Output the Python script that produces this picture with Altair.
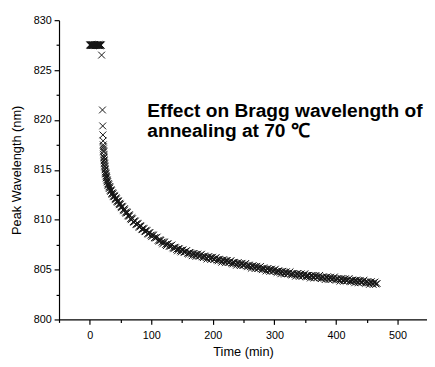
import altair as alt
import pandas as pd

# plateau before annealing effect (time in min, wavelength in nm)
time_plateau = [0, 0.5, 1, 1.5, 2, 2.5, 3, 3.5, 4, 4.5, 5, 5.5, 6, 6.5, 7, 7.5, 8, 8.5, 9, 9.5,
                10, 10.5, 11, 11.5, 12, 12.5, 13, 13.5, 14, 14.5, 15, 15.5, 16, 16.5, 17, 17.5, 18, 18.5]
wl_plateau = [827.5, 827.55, 827.5, 827.45, 827.5, 827.55, 827.5, 827.5, 827.45, 827.5,
              827.55, 827.5, 827.5, 827.45, 827.5, 827.55, 827.5, 827.5, 827.45, 827.5,
              827.55, 827.5, 827.5, 827.45, 827.5, 827.55, 827.5, 827.5, 827.45, 827.5,
              827.55, 827.5, 827.5, 827.45, 827.5, 827.55, 827.5, 827.5]

# decay, first set of readings
time_decay = [19.2, 20.6, 21.0, 21.3, 21.6, 21.9, 22.2, 22.5, 22.8, 23.1, 23.4, 23.7, 24.0, 24.4, 24.8,
              25.3, 25.8, 26.4, 27.0, 27.7, 28.5, 29.3, 30.2, 31.2, 32.2, 33.3, 34.5, 35.7, 37.0, 38.4,
              39.8, 41.2, 42.7, 44.2, 45.8, 47.4, 49.0, 50.7, 52.4, 54.2, 56.0, 58.0, 60.0, 62.0, 64.0,
              66.2, 68.4, 70.6, 72.8, 75.0, 77.3, 79.6, 82.0, 84.4, 86.8, 89.2, 91.6, 94.0, 96.5, 99.0,
              102, 105, 108, 111, 114, 117, 120, 123, 126, 129, 132, 135, 138, 141, 144, 147, 150,
              153, 156, 159, 162, 165, 168, 171, 174, 177, 180, 183, 186, 189, 192, 195, 198, 201,
              204, 207, 210, 213, 216, 219, 222, 225, 228, 231, 234, 237, 240, 243, 246, 249, 252,
              255, 258, 261, 264, 267, 270, 273, 276, 279, 282, 285, 288, 291, 294, 297, 300, 303,
              306, 309, 312, 315, 318, 321, 324, 327, 330, 333, 336, 339, 342, 345, 348, 351, 354,
              357, 360, 363, 366, 369, 372, 375, 378, 381, 384, 387, 390, 393, 396, 399, 402, 405,
              408, 411, 414, 417, 420, 423, 426, 429, 432, 435, 438, 441, 444, 447, 450, 453, 456,
              459, 462, 465]
wl_decay = [826.5, 821.0, 819.4, 818.5, 817.9, 817.5, 817.1, 816.8, 816.5, 816.2, 816.0, 815.7, 815.6, 815.3, 815.1,
            814.8, 814.7, 814.4, 814.35, 814.0, 813.95, 813.6, 813.6, 813.3, 813.3, 812.95, 813.0, 812.65, 812.7, 812.35,
            812.45, 812.1, 812.2, 811.85, 811.9, 811.6, 811.65, 811.3, 811.35, 811.0, 811.1, 810.75, 810.8, 810.4, 810.5,
            810.1, 810.2, 809.8, 809.9, 809.55, 809.65, 809.3, 809.4, 809.05, 809.15, 808.85, 808.95, 808.6, 808.72, 808.45,
            808.48, 808.20, 808.22, 807.93, 808.00, 807.75, 807.78, 807.52, 807.58, 807.35, 807.40, 807.18, 807.24, 807.02, 807.10, 806.88, 806.95,
            806.76, 806.83, 806.63, 806.72, 806.55, 806.62, 806.44, 806.52, 806.36, 806.44, 806.28, 806.36, 806.20, 806.28, 806.12, 806.20, 806.04,
            806.12, 805.97, 806.04, 805.88, 805.96, 805.80, 805.88, 805.72, 805.80, 805.65, 805.73, 805.58, 805.66, 805.52, 805.59, 805.45, 805.52,
            805.38, 805.45, 805.29, 805.36, 805.22, 805.29, 805.15, 805.22, 805.08, 805.15, 805.01, 805.08, 804.94, 805.01, 804.87, 804.94, 804.80,
            804.87, 804.73, 804.80, 804.66, 804.73, 804.60, 804.67, 804.54, 804.62, 804.49, 804.56, 804.44, 804.51, 804.39, 804.46, 804.34, 804.42,
            804.30, 804.38, 804.26, 804.34, 804.22, 804.30, 804.18, 804.26, 804.14, 804.22, 804.10, 804.18, 804.06, 804.14, 804.02, 804.10, 803.98,
            804.06, 803.94, 804.02, 803.90, 803.98, 803.86, 803.94, 803.82, 803.90, 803.78, 803.86, 803.74, 803.82, 803.70, 803.78, 803.66, 803.74,
            803.62, 803.70, 803.56]

# decay, second set of readings (in between the first)
time_decay2 = [22.0, 22.4, 23.0, 23.5, 24.2, 25.0, 25.6, 26.1, 26.7, 27.3, 28.1, 28.9, 29.7, 30.7, 31.7,
               32.7, 33.9, 35.1, 36.3, 37.7, 39.1, 40.5, 41.9, 43.4, 45.0, 46.6, 48.2, 49.8, 51.5, 53.3,
               55.1, 57.0, 59.0, 61.0, 63.0, 65.1, 67.3, 69.5, 71.7, 73.9, 76.1, 78.4, 80.8, 83.2, 85.6,
               88.0, 90.4, 92.8, 95.2, 97.7,
               100.5, 103.5, 106.5, 109.5, 112.5, 115.5, 118.5, 121.5, 124.5, 127.5, 130.5, 133.5, 136.5,
               139.5, 142.5, 145.5, 148.5, 151.5, 154.5, 157.5, 160.5, 163.5, 166.5, 169.5, 172.5, 175.5,
               178.5, 181.5, 184.5, 187.5, 190.5, 193.5, 196.5, 199.5, 202.5, 205.5, 208.5, 211.5, 214.5,
               217.5, 220.5, 223.5, 226.5, 229.5, 232.5, 235.5, 238.5, 241.5, 244.5, 247.5, 250.5, 253.5,
               256.5, 259.5, 262.5, 265.5, 268.5, 271.5, 274.5, 277.5, 280.5, 283.5, 286.5, 289.5, 292.5,
               295.5, 298.5, 301.5, 304.5, 307.5, 310.5, 313.5, 316.5, 319.5, 322.5, 325.5, 328.5, 331.5,
               334.5, 337.5, 340.5, 343.5, 346.5, 349.5, 352.5, 355.5, 358.5, 361.5, 364.5, 367.5, 370.5,
               373.5, 376.5, 379.5, 382.5, 385.5, 388.5, 391.5, 394.5, 397.5, 400.5, 403.5, 406.5, 409.5,
               412.5, 415.5, 418.5, 421.5, 424.5, 427.5, 430.5, 433.5, 436.5, 439.5, 442.5, 445.5, 448.5,
               451.5, 454.5, 457.5, 460.5, 463.5, 467.0]
wl_decay2 = [817.3, 816.9, 816.3, 815.9, 815.4, 815.0, 814.6, 814.6, 814.2, 814.2, 813.8, 813.8, 813.45, 813.5, 813.15,
             813.2, 812.85, 812.9, 812.55, 812.6, 812.3, 812.35, 812.0, 812.1, 811.75, 811.85, 811.5, 811.55, 811.2, 811.3,
             810.9, 811.0, 810.65, 810.7, 810.35, 810.4, 810.0, 810.1, 809.75, 809.85, 809.5, 809.6, 809.25, 809.35, 809.0,
             809.1, 808.8, 808.9, 808.55, 808.7,
             808.30, 808.45, 808.15, 808.26, 807.85, 807.93, 807.58, 807.75, 807.40, 807.58, 807.32, 807.47, 807.09,
             807.19, 806.88, 807.08, 806.77, 806.97, 806.74, 806.91, 806.56, 806.68, 806.39, 806.62, 806.33, 806.56,
             806.35, 806.54, 806.20, 806.34, 806.06, 806.30, 806.01, 806.24, 806.03, 806.22, 805.88, 806.02, 805.74,
             805.98, 805.69, 805.92, 805.71, 805.90, 805.56, 805.71, 805.44, 805.68, 805.40, 805.63, 805.43, 805.62,
             805.29, 805.43, 805.14, 805.38, 805.10, 805.33, 805.13, 805.32, 804.99, 805.13, 804.86, 805.10, 804.82,
             805.05, 804.85, 805.04, 804.71, 804.85, 804.58, 804.82, 804.55, 804.78, 804.58, 804.78, 804.46, 804.61,
             804.34, 804.60, 804.32, 804.57, 804.37, 804.58, 804.26, 804.42, 804.16, 804.42, 804.15, 804.40, 804.21,
             804.42, 804.10, 804.26, 804.00, 804.26, 803.99, 804.24, 804.05, 804.26, 803.94, 804.10, 803.84, 804.10,
             803.83, 804.08, 803.89, 804.10, 803.78, 803.94, 803.68, 803.94, 803.67, 803.92, 803.73, 803.94, 803.62,
             803.78, 803.52, 803.78, 803.51, 803.75, 803.60]

x_ticks = [0, 100, 200, 300, 400, 500]
x_minor = [-50, 50, 150, 250, 350, 450]
y_ticks = [800, 805, 810, 815, 820, 825, 830]
y_minor = [802.5, 807.5, 812.5, 817.5, 822.5, 827.5]
annotation = "Effect on Bragg wavelength of\nannealing at 70 \u2103"

df = pd.DataFrame({"t": time_plateau + time_decay + time_decay2,
                   "wl": wl_plateau + wl_decay + wl_decay2})
ann = pd.DataFrame({"t": [93.5], "wl": [821.8], "label": [annotation]})

FONT = "Liberation Sans"
xs = alt.Scale(domain=[-50, 548], nice=False, zero=False)
ys = alt.Scale(domain=[800, 830], nice=False, zero=False)

cross = "M-1,-1L1,1M-1,1L1,-1"

points = alt.Chart(df).mark_point(shape=cross, size=48, filled=False, stroke="#151515",
                                  strokeWidth=1.0, opacity=1).encode(
    x=alt.X("t:Q", scale=xs, axis=alt.Axis(values=x_ticks, title="Time (min)", orient="bottom",
                                           format="d", grid=False, tickSize=5, labelPadding=5,
                                           titlePadding=6, domainColor="black", tickColor="black",
                                           domainWidth=1.2, tickWidth=1.2)),
    y=alt.Y("wl:Q", scale=ys, axis=alt.Axis(values=y_ticks, title="Peak Wavelength (nm)", orient="left",
                                            format="d", grid=False, tickSize=5, labelPadding=3,
                                            titlePadding=10, domainColor="black", tickColor="black",
                                            domainWidth=1.2, tickWidth=1.2)),
)

minor = alt.Chart(df).mark_point(opacity=0).encode(
    x=alt.X("t:Q", scale=xs, axis=alt.Axis(values=x_minor, title=None, labels=False, domain=False,
                                           orient="bottom", grid=False, tickSize=3,
                                           tickColor="black", tickWidth=1.2)),
    y=alt.Y("wl:Q", scale=ys, axis=alt.Axis(values=y_minor, title=None, labels=False, domain=False,
                                            orient="left", grid=False, tickSize=3,
                                            tickColor="black", tickWidth=1.2)),
)

text = alt.Chart(ann).mark_text(align="left", baseline="top", fontSize=19.5, fontWeight="bold",
                                font=FONT, lineHeight=21, lineBreak="\n", color="black").encode(
    x=alt.X("t:Q", scale=xs, axis=None),
    y=alt.Y("wl:Q", scale=ys, axis=None),
    text="label:N",
)

chart = alt.layer(points, minor, text).resolve_axis(x="independent", y="independent").properties(
    width=375, height=305,
    padding={"left": 52, "top": 9, "right": 0, "bottom": 44},
    autosize=alt.AutoSizeParams(type="none"),
).configure_view(stroke=None).configure_axis(
    labelFont=FONT, titleFont=FONT, labelFontSize=11, titleFontSize=13,
    labelColor="black", titleColor="black", titleFontWeight="normal",
)

chart.save("out.html", embed_options={"renderer": "svg", "actions": False})
